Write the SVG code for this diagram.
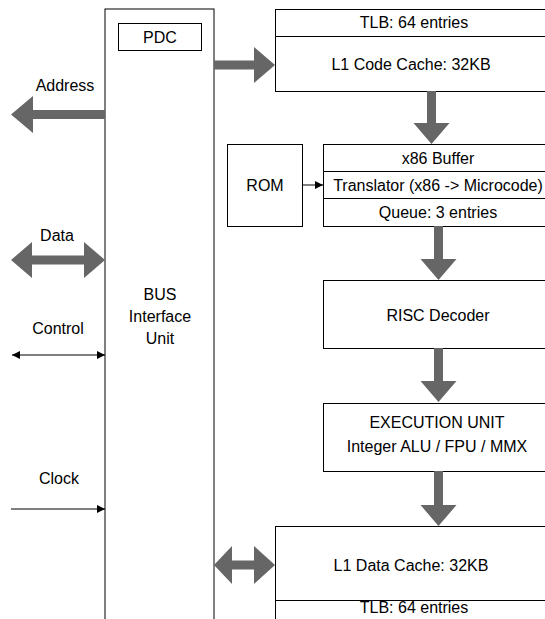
<svg xmlns="http://www.w3.org/2000/svg" width="545" height="619" viewBox="0 0 545 619">
<style>
.box{fill:#fff;stroke:#000;stroke-width:1}
.t{font-family:"Liberation Sans",Arial,sans-serif;font-size:16px;fill:#000;text-anchor:middle}
.fat{fill:#666;stroke:none}
.thin{stroke:#000;stroke-width:1;fill:none}
</style>
<defs>
<marker id="ah" viewBox="0 0 10 10" refX="10" refY="5" markerWidth="11" markerHeight="8" markerUnits="userSpaceOnUse" orient="auto-start-reverse">
<path d="M0,0 L10,5 L0,10 Z" fill="#000"/>
</marker>
</defs>
<rect width="545" height="619" fill="#fff"/>

<g id="bus">
<rect class="box" x="105" y="9" width="109" height="620"/>
<text class="t" x="160" y="300">BUS</text>
<text class="t" x="160" y="322">Interface</text>
<text class="t" x="160" y="344">Unit</text>
</g>
<g id="pdc">
<rect class="box" x="118.5" y="23.5" width="83" height="27" stroke="#333"/>
<text class="t" x="160" y="43">PDC</text>
</g>
<g id="codecache">
<rect class="box" x="275.5" y="9.5" width="280" height="27"/>
<text class="t" x="414" y="28">TLB: 64 entries</text>
<rect class="box" x="275.5" y="36.5" width="280" height="55"/>
<text class="t" x="411" y="70">L1 Code Cache: 32KB</text>
</g>
<g id="rom">
<rect class="box" x="227.5" y="144.5" width="75" height="82"/>
<text class="t" x="265" y="191">ROM</text>
</g>
<g id="translator">
<rect class="box" x="323.5" y="144.5" width="232" height="27"/>
<text class="t" x="438" y="164">x86 Buffer</text>
<rect class="box" x="323.5" y="171.5" width="232" height="27"/>
<text class="t" x="438" y="191">Translator (x86 -&gt; Microcode)</text>
<rect class="box" x="323.5" y="198.5" width="232" height="28"/>
<text class="t" x="438" y="218">Queue: 3 entries</text>
</g>
<g id="risc">
<rect class="box" x="323.5" y="280.5" width="232" height="68"/>
<text class="t" x="438" y="321">RISC Decoder</text>
</g>
<g id="exec">
<rect class="box" x="323.5" y="403.5" width="232" height="68"/>
<text class="t" x="437" y="428">EXECUTION UNIT</text>
<text class="t" x="437" y="452">Integer ALU / FPU / MMX</text>
</g>
<g id="datacache">
<rect class="box" x="275.5" y="526.5" width="280" height="74"/>
<text class="t" x="411" y="571">L1 Data Cache: 32KB</text>
<rect class="box" x="275.5" y="600.5" width="280" height="30"/>
<text class="t" x="414" y="613">TLB: 64 entries</text>
</g>

<g id="labels">
<text class="t" x="65" y="91">Address</text>
<text class="t" x="57" y="241">Data</text>
<text class="t" x="58" y="334">Control</text>
<text class="t" x="59" y="484">Clock</text>
</g>

<g id="connectors">
<polygon class="fat" points="214,60.5 254,60.5 254,47 275,65 254,83 254,69.5 214,69.5"/>
<polygon class="fat" points="105,110 33,110 33,96 11,114.5 33,133 33,119 105,119"/>
<polygon class="fat" points="11,260 32,242 32,255.5 84,255.5 84,242 105,260 84,278 84,264.5 32,264.5 32,278"/>
<polygon class="fat" points="214,565 232,546 232,560.5 254,560.5 254,546 275,565 254,584 254,569.5 232,569.5 232,584"/>
<polygon class="fat" points="427,91 436,91 436,123 449.5,123 431.5,144 413.5,123 427,123"/>
<polygon class="fat" points="434,226 443,226 443,259 456.5,259 438.5,280 420.5,259 434,259"/>
<polygon class="fat" points="434,348 443,348 443,381 456.5,381 438.5,402 420.5,381 434,381"/>
<polygon class="fat" points="434,471 443,471 443,505 456.5,505 438.5,526 420.5,505 434,505"/>
<line class="thin" x1="12" y1="355" x2="105" y2="355" marker-start="url(#ah)" marker-end="url(#ah)"/>
<line class="thin" x1="11" y1="509" x2="105" y2="509" marker-end="url(#ah)"/>
<line class="thin" x1="302" y1="185" x2="323" y2="185" marker-end="url(#ah)"/>
</g>
</svg>
